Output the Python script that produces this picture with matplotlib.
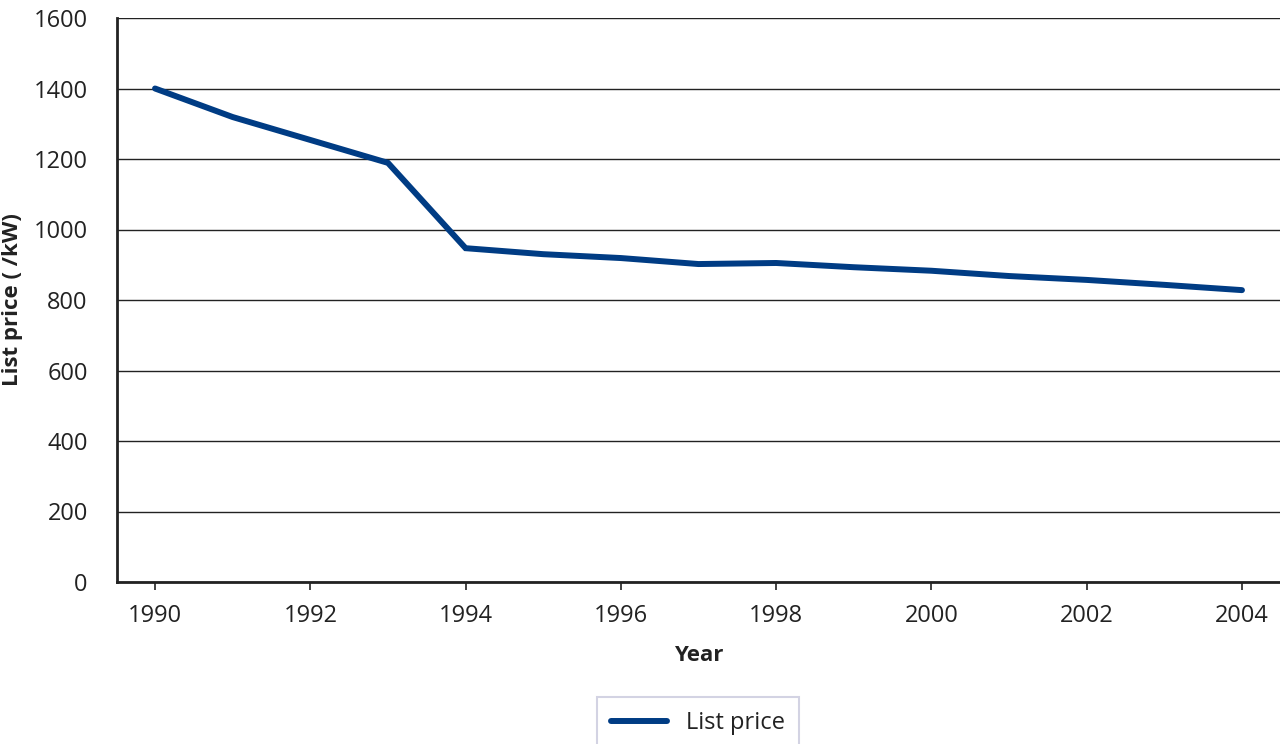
import matplotlib
matplotlib.use('Agg')
import matplotlib.pyplot as plt

# Data
years = [1990, 1991, 1992, 1993, 1994, 1995, 1996, 1997, 1998, 1999, 2000, 2001, 2002, 2003, 2004]
list_price = [1400, 1319, 1254, 1189, 947, 930, 919, 902, 905, 893, 883, 868, 857, 843, 828]
x_ticks = list(range(1990, 2005, 2))
y_ticks = list(range(0, 1601, 200))

plt.rcParams['font.family'] = ['Open Sans', 'DejaVu Sans']

LINE_COLOR = '#003C84'

fig = plt.figure(figsize=(12.8, 7.44), dpi=100)
ax = fig.add_axes([117/1280, 1 - 582/744, 1 - 117/1280, (582 - 18)/744])

ax.plot(years, list_price, color=LINE_COLOR, linewidth=4.3,
        solid_capstyle='round', solid_joinstyle='miter', label='List price', zorder=3)

ax.set_xlim(1989.51, 2004.49)
ax.set_ylim(0, 1600)
ax.set_xticks(x_ticks)
ax.set_yticks(y_ticks)
ax.yaxis.grid(True, color='#222222', linewidth=1.0)
ax.set_axisbelow(True)

for side in ['top', 'right']:
    ax.spines[side].set_visible(False)
for side in ['left', 'bottom']:
    ax.spines[side].set_linewidth(2.0)
    ax.spines[side].set_color('#222222')

ax.tick_params(axis='x', length=6, width=1.2, color='#222222', pad=10,
               labelsize=17, labelcolor='#222222')
ax.tick_params(axis='y', length=0, pad=21, labelsize=17, labelcolor='#222222')

ax.set_xlabel('Year', fontsize=16, fontweight='bold', color='#222222', labelpad=12)
ax.set_ylabel('List price ( /kW)', fontsize=16, fontweight='bold', color='#222222')
ax.yaxis.set_label_coords((23 - 117) / 1163, 0.5)

leg = fig.legend(loc='upper center', bbox_to_anchor=(698/1280, 1 - 697/744),
                 borderaxespad=0, fontsize=17, frameon=True, fancybox=False,
                 borderpad=0.6, handlelength=2.4, handletextpad=0.8)
leg.get_frame().set_edgecolor('#C8C8DC')
leg.get_frame().set_linewidth(1.5)
for t in leg.get_texts():
    t.set_color('#222222')

fig.savefig('out.png', dpi=100, facecolor='white')
